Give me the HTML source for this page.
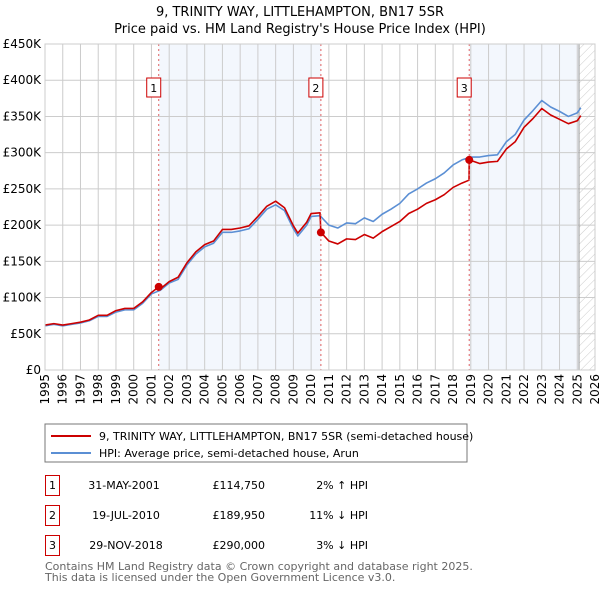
<!DOCTYPE html>
<html><head><meta charset="utf-8"><style>
body{margin:0;background:#fff;font-family:"Liberation Sans","DejaVu Sans",sans-serif;}
#wrap{position:relative;width:600px;height:590px;overflow:hidden;}
svg text{font-family:"DejaVu Sans","Liberation Sans",sans-serif;}
</style></head><body><div id="wrap">
<svg id="chart" width="600" height="590">
<defs><pattern id="hatch" width="6" height="6" patternUnits="userSpaceOnUse" patternTransform="rotate(45)"><line x1="0" y1="0" x2="0" y2="6" stroke="#ccc" stroke-width="1"/></pattern></defs>
<text x="300" y="16" text-anchor="middle" font-size="13">9, TRINITY WAY, LITTLEHAMPTON, BN17 5SR</text>
<text x="300" y="33" text-anchor="middle" font-size="13">Price paid vs. HM Land Registry's House Price Index (HPI)</text>
<g id="bg"></g><g id="grid"></g><g id="axes"></g><g id="series"></g><g id="marks"></g>
<rect x="45" y="424" width="422" height="38" fill="#fff" stroke="#777"/>
<line x1="51" y1="436" x2="91" y2="436" stroke="#cc0000" stroke-width="2"/>
<text x="99" y="440" font-size="11">9, TRINITY WAY, LITTLEHAMPTON, BN17 5SR (semi-detached house)</text>
<line x1="51" y1="453" x2="91" y2="453" stroke="#5b8fd4" stroke-width="2"/>
<text x="99" y="457" font-size="11">HPI: Average price, semi-detached house, Arun</text>
<g font-size="11">
<rect x="45.5" y="475.5" width="14" height="20" fill="#fff" stroke="#cc0000"/><text x="52.5" y="489" text-anchor="middle">1</text>
<text x="124" y="489" text-anchor="middle">31-MAY-2001</text><text x="265" y="489" text-anchor="end">£114,750</text><text x="368" y="489" text-anchor="end">2% ↑ HPI</text>
<rect x="45.5" y="505.5" width="14" height="20" fill="#fff" stroke="#cc0000"/><text x="52.5" y="519" text-anchor="middle">2</text>
<text x="126" y="519" text-anchor="middle">19-JUL-2010</text><text x="265" y="519" text-anchor="end">£189,950</text><text x="368" y="519" text-anchor="end">11% ↓ HPI</text>
<rect x="45.5" y="535.5" width="14" height="20" fill="#fff" stroke="#cc0000"/><text x="52.5" y="549" text-anchor="middle">3</text>
<text x="126" y="549" text-anchor="middle">29-NOV-2018</text><text x="265" y="549" text-anchor="end">£290,000</text><text x="368" y="549" text-anchor="end">3% ↓ HPI</text>
</g>
<text x="45" y="570" font-size="11" fill="#666">Contains HM Land Registry data © Crown copyright and database right 2025.</text>
<text x="45" y="581" font-size="11" fill="#666">This data is licensed under the Open Government Licence v3.0.</text>
</svg></div>
<script>
const yTicks=[0,50,100,150,200,250,300,350,400,450];
const yTickLabels=["£0","£50K","£100K","£150K","£200K","£250K","£300K","£350K","£400K","£450K"];
const xYears=[1995,1996,1997,1998,1999,2000,2001,2002,2003,2004,2005,2006,2007,2008,2009,2010,2011,2012,2013,2014,2015,2016,2017,2018,2019,2020,2021,2022,2023,2024,2025,2026];
const hpiDates=[1995,1995.5,1996,1996.5,1997,1997.5,1998,1998.5,1999,1999.5,2000,2000.5,2001,2001.5,2002,2002.5,2003,2003.5,2004,2004.5,2005,2005.5,2006,2006.5,2007,2007.5,2008,2008.5,2009,2009.25,2009.75,2010,2010.5,2011,2011.5,2012,2012.5,2013,2013.5,2014,2014.5,2015,2015.5,2016,2016.5,2017,2017.5,2018,2018.5,2019,2019.5,2020,2020.5,2021,2021.5,2022,2022.5,2023,2023.5,2024,2024.5,2025,2025.2];
const hpiValues=[61,63,61,63,65,68,74,74,80,83,83,92,105,110,120,125,145,160,170,175,190,190,192,195,208,222,228,220,195,185,200,212,213,200,196,203,202,210,205,215,222,230,243,250,258,264,272,283,290,294,294,296,297,315,325,345,358,372,363,357,350,355,362];
const priceDates=[1995,1995.5,1996,1996.5,1997,1997.5,1998,1998.5,1999,1999.5,2000,2000.5,2001,2001.41,2001.5,2002,2002.5,2003,2003.5,2004,2004.5,2005,2005.5,2006,2006.5,2007,2007.5,2008,2008.5,2009,2009.25,2009.75,2010,2010.5,2010.55,2011,2011.5,2012,2012.5,2013,2013.5,2014,2014.5,2015,2015.5,2016,2016.5,2017,2017.5,2018,2018.5,2018.9,2018.91,2019.5,2020,2020.5,2021,2021.5,2022,2022.5,2023,2023.5,2024,2024.5,2025,2025.2];
const priceValues=[62,64,62,64,66,69,75.5,75.5,82,85,85,94,107,114.75,112,122,128,148,163,173,178,194,194,196,199,212,226,233,224,199,189,204,216,217,189.95,178,174,181,180,187,182,191,198,205,216,222,230,235,242,252,258,262,290,285,287,288,305,315,335,347,361,352,346,340,344,351];
const saleDates=[2001.41,2010.55,2018.91];
const saleValues=[114.75,189.95,290];
const saleLabels=["1","2","3"];
const X0=45,X1=595,Y0=370,Y1=44;
const xs=t=>X0+(t-1995)/(2026-1995)*(X1-X0);
const ys=v=>Y0-v/450*(Y0-Y1);
const NS="http://www.w3.org/2000/svg";
function mk(tag,attrs,parent){const e=document.createElementNS(NS,tag);for(const k in attrs)e.setAttribute(k,attrs[k]);document.getElementById(parent).appendChild(e);return e;}
let r;
r=mk('rect',{x:X0,y:Y1,width:X1-X0,height:Y0-Y1,fill:'#fff'},'bg');


r=mk('rect',{x:xs(saleDates[0]),y:Y1,width:xs(saleDates[1])-xs(saleDates[0]),height:Y0-Y1,fill:'#eef3fc',opacity:0.7},'bg');


r=mk('rect',{x:xs(saleDates[2]),y:Y1,width:xs(2025.1)-xs(saleDates[2]),height:Y0-Y1,fill:'#eef3fc',opacity:0.7},'bg');


r=mk('rect',{x:xs(2025.1),y:Y1,width:X1-xs(2025.1),height:Y0-Y1,fill:'url(#hatch)'},'bg');


yTicks.forEach((v,i)=>{
 const l=mk('line',{x1:X0,x2:X1,y1:ys(v),y2:ys(v),stroke:'#ccc'},'grid');
 
 
 const t=mk('text',{x:X0-4,y:ys(v)+4,'text-anchor':'end','font-size':12},'axes');
 t.textContent=yTickLabels[i];
 
 
});
xYears.forEach(yr=>{
 const l=mk('line',{x1:xs(yr),x2:xs(yr),y1:Y1,y2:Y0,stroke:'#ccc'},'grid');
 
 
 const t=mk('text',{x:0,y:0,'text-anchor':'end','font-size':12,transform:`translate(${xs(yr)+4},374) rotate(-90)`},'axes');
 t.textContent=yr;
 
 
});
const l2=mk('line',{x1:xs(2025.1),x2:xs(2025.1),y1:Y1,y2:Y0,stroke:'#999'},'grid');


function line(d,v,color,name){
 const p=mk('polyline',{points:d.map((t,i)=>xs(t)+','+ys(v[i])).join(' '),fill:'none',stroke:color,'stroke-width':1.6,'stroke-linejoin':'round'},'series');
 
 
}
line(hpiDates,hpiValues,'#5b8fd4','hpi-line');
line(priceDates,priceValues,'#cc0000','price-paid-line');
saleDates.forEach((t,i)=>{
 const l=mk('line',{x1:xs(t),x2:xs(t),y1:Y1,y2:Y0,stroke:'#e06060','stroke-dasharray':'2,3'},'marks');
 
 
 const b=mk('rect',{x:xs(t)-7-5,y:78,width:14,height:19,fill:'#fff',stroke:'#cc0000'},'marks');
 
 
 const tx=mk('text',{x:xs(t)-5,y:92,'text-anchor':'middle','font-size':11},'marks');
 tx.textContent=saleLabels[i];
 
 
 const c=mk('circle',{cx:xs(t),cy:ys(saleValues[i]),r:4,fill:'#cc0000'},'marks');
 
 
});
const bd=mk('rect',{x:X0,y:Y1,width:X1-X0,height:Y0-Y1,fill:'none',stroke:'#ccc'},'marks');


</script></body></html>
